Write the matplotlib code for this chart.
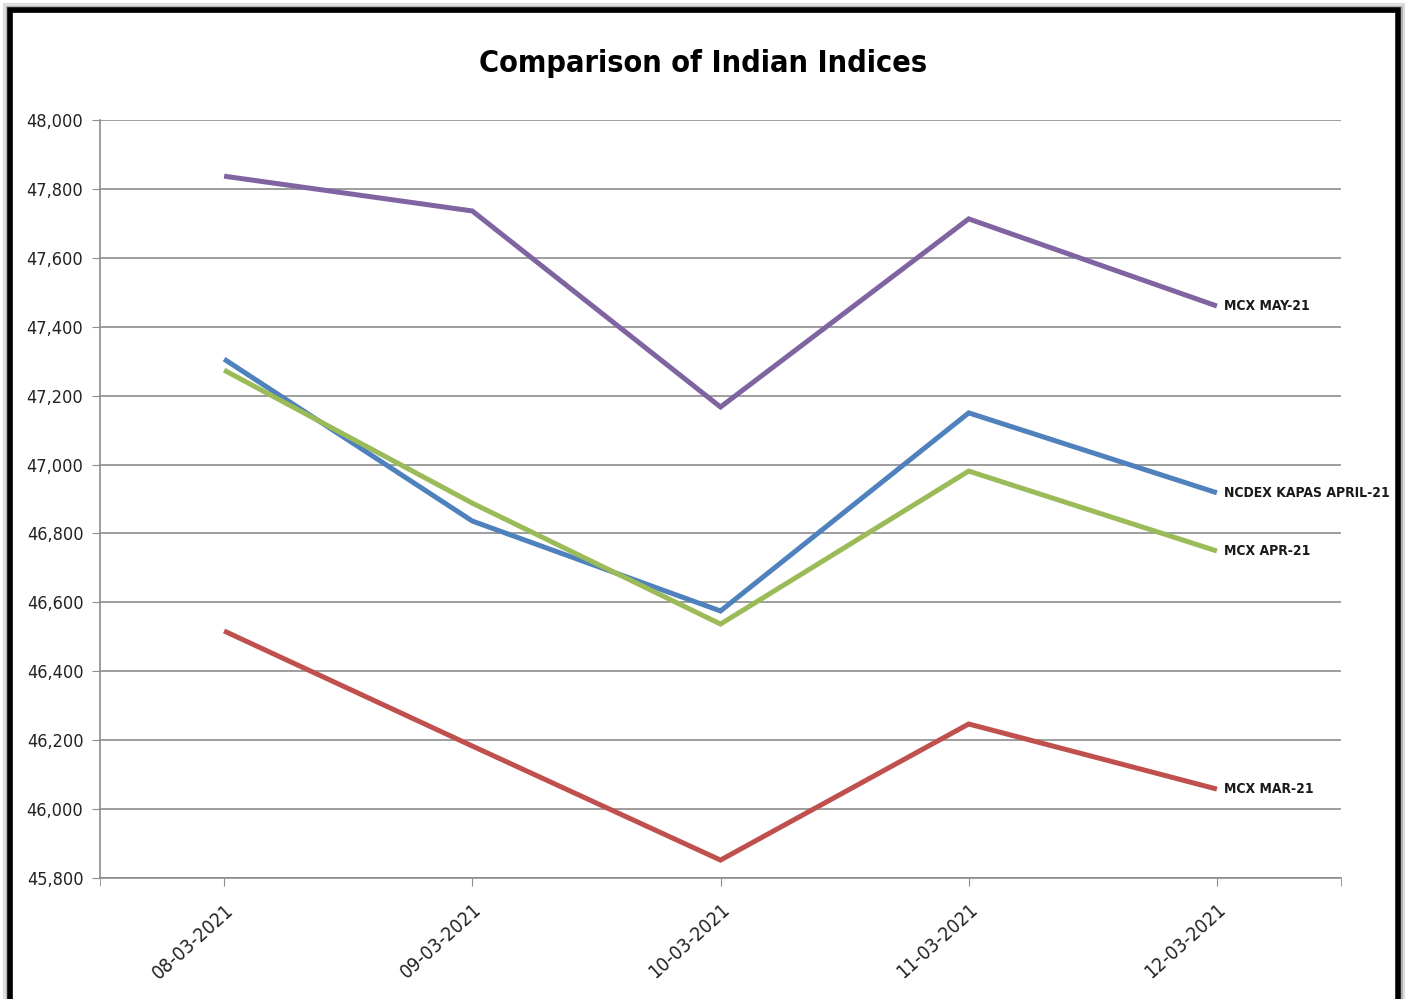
import matplotlib
matplotlib.use("Agg")
import matplotlib.pyplot as plt
from matplotlib.patches import Rectangle
from matplotlib.ticker import FuncFormatter, MultipleLocator

dates = ["08-03-2021", "09-03-2021", "10-03-2021", "11-03-2021", "12-03-2021"]

mcx_may = [47837, 47736, 47167, 47713, 47460]
ncdex_kapas_apr = [47306, 46836, 46575, 47150, 46918]
mcx_apr = [47274, 46888, 46537, 46981, 46749]
mcx_mar = [46517, 46183, 45852, 46247, 46058]

series_names = ["MCX MAY-21", "NCDEX KAPAS APRIL-21", "MCX APR-21", "MCX MAR-21"]
series_values = [mcx_may, ncdex_kapas_apr, mcx_apr, mcx_mar]
series_colors = ["#8064A2", "#4F81BD", "#9BBB59", "#C0504D"]

plt.rcParams["font.family"] = ["DejaVu Sans"]
plt.rcParams["font.stretch"] = "condensed"

W, H = 1406, 999
fig = plt.figure(figsize=(W / 100, H / 100), dpi=100)
fig.patch.set_facecolor("white")

# outer frame with soft grey shadow
for pad, lw, col in [(3, 6, "#dddddd"), (1, 5, "#b0b0b0")]:
    fig.add_artist(Rectangle(((10 - pad) / W, -0.05), (1388 + 2 * pad) / W, (H - 10 + pad) / H + 0.05,
                             transform=fig.transFigure, fill=False, ec=col, lw=lw, zorder=0))
fig.add_artist(Rectangle((10 / W, -0.05), 1388 / W, (H - 10) / H + 0.05,
                         transform=fig.transFigure, fill=False, ec="black", lw=4, zorder=1))

left, right, top, bottom = 100, 1341, 120, 878
ax = fig.add_axes([left / W, 1 - bottom / H, (right - left) / W, (bottom - top) / H])

x = list(range(len(dates)))
for name, vals, col in zip(series_names, series_values, series_colors):
    ax.plot(x, vals, color=col, lw=3.6, solid_joinstyle="miter", solid_capstyle="butt", zorder=3)
    ax.annotate(name, xy=(x[-1], vals[-1]), xytext=(5, 0), textcoords="offset points",
                ha="left", va="center", fontsize=10, fontweight="bold", color="#1a1a1a",
                fontstretch="condensed", annotation_clip=False)

ax.set_xlim(-0.5, len(dates) - 0.5)
ax.set_ylim(45800, 48000)
ax.yaxis.set_major_locator(MultipleLocator(200))
ax.yaxis.set_major_formatter(FuncFormatter(lambda v, p: f"{int(v):,}"))
ax.grid(axis="y", color="#8c8c8c", lw=1.2)
ax.set_axisbelow(True)

ax.set_xticks(x)
ax.set_xticks([-0.5, len(dates) - 0.5], minor=True)
ax.set_xticklabels(dates, rotation=42, ha="right", va="top", rotation_mode="anchor",
                   fontsize=14, color="#222222")
ax.tick_params(axis="x", which="both", length=6, color="#8c8c8c", pad=10)
ax.tick_params(axis="y", length=6, color="#8c8c8c", labelsize=13, labelcolor="#222222", pad=6)

for side in ["top", "right"]:
    ax.spines[side].set_visible(False)
for side in ["left", "bottom"]:
    ax.spines[side].set_color("#8c8c8c")
    ax.spines[side].set_linewidth(1.2)

fig.text(0.5, 1 - 64 / H, "Comparison of Indian Indices", ha="center", va="center",
         fontsize=22, fontweight="bold", color="black", fontstretch="condensed")

fig.savefig("out.png", dpi=100, facecolor="white")
